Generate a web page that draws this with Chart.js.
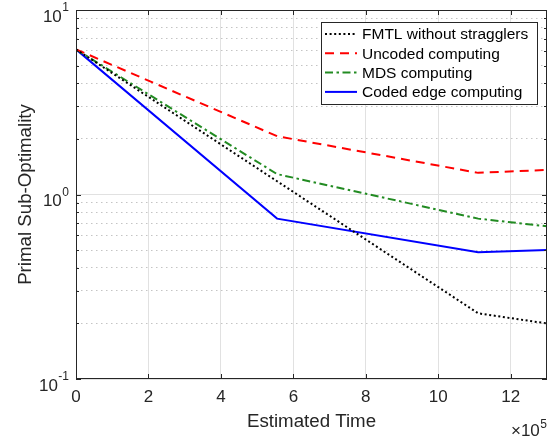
<!DOCTYPE html>
<html>
<head>
<meta charset="utf-8">
<script src="https://cdn.jsdelivr.net/npm/chart.js@4.4.1/dist/chart.umd.min.js"></script>
<style>
  html, body { margin: 0; padding: 0; background: #ffffff; }
  canvas { display: block; }
</style>
</head>
<body>
<canvas id="c" width="557" height="439"></canvas>
<script>
// ---- data ----
const times = [0, 5.55, 11.1, 13];            // ×10^5
const fmtlWithoutStragglers = [6.12, 1.18, 0.227, 0.200];
const uncodedComputing      = [6.12, 2.07, 1.31, 1.36];
const mdsComputing          = [6.12, 1.29, 0.74, 0.672];
const codedEdgeComputing    = [6.12, 0.74, 0.487, 0.50];

const seriesNames = ['FMTL without stragglers', 'Uncoded computing', 'MDS computing', 'Coded edge computing'];
const xTickValues = [0, 2, 4, 6, 8, 10, 12];
const yMajorTicks = [0.1, 1, 10];
const yExponents  = ['-1', '0', '1'];
const xLabel = 'Estimated Time';
const yLabel = 'Primal Sub-Optimality';
const xMultiplierBase = '\u00d710';
const xMultiplierExp = '5';

const FONT = '"Liberation Sans", Arial, Helvetica, sans-serif';
const AXIS_COLOR = '#262626';

function pts(ys) { return times.map((t, i) => ({ x: t, y: ys[i] })); }

const styles = [
  { color: '#000000', dash: [2, 2.6] },
  { color: '#ff0000', dash: [9, 6] },
  { color: '#228b22', dash: [8, 3.5, 2.5, 3.5] },
  { color: '#0000ff', dash: [] }
];
const seriesData = [fmtlWithoutStragglers, uncodedComputing, mdsComputing, codedEdgeComputing];

const datasets = seriesData.map((d, i) => ({
  label: seriesNames[i],
  data: pts(d),
  borderColor: styles[i].color,
  backgroundColor: styles[i].color,
  borderDash: styles[i].dash,
  borderWidth: 2,
  pointRadius: 0,
  tension: 0,
  fill: false
}));

function isMajor(v) {
  const l = Math.log10(v);
  return Math.abs(l - Math.round(l)) < 1e-6;
}

const decorPlugin = {
  id: 'decor',
  afterDatasetsDraw(chart) {
    const ctx = chart.ctx;
    const a = chart.chartArea;
    const xs = chart.scales.x, ys = chart.scales.y;
    ctx.save();
    ctx.strokeStyle = AXIS_COLOR;
    ctx.lineWidth = 1;
    ctx.setLineDash([]);
    // inward ticks
    ctx.beginPath();
    xTickValues.forEach(v => {
      const px = Math.round(xs.getPixelForValue(v)) + 0.5;
      ctx.moveTo(px, a.bottom); ctx.lineTo(px, a.bottom - 5);
      ctx.moveTo(px, a.top); ctx.lineTo(px, a.top + 5);
    });
    ys.ticks.forEach(t => {
      const py = Math.round(ys.getPixelForValue(t.value)) + 0.5;
      const len = isMajor(t.value) ? 5 : 3;
      ctx.moveTo(a.left, py); ctx.lineTo(a.left + len, py);
      ctx.moveTo(a.right, py); ctx.lineTo(a.right - len, py);
    });
    ctx.stroke();
    // box
    ctx.strokeRect(Math.round(a.left) + 0.5, Math.round(a.top) + 0.5,
                   Math.round(a.right - a.left) - 1, Math.round(a.bottom - a.top) - 1);
    ctx.restore();
  },
  afterDraw(chart) {
    const ctx = chart.ctx;
    const a = chart.chartArea;
    const ys = chart.scales.y;
    ctx.save();
    ctx.fillStyle = AXIS_COLOR;
    // y tick labels 10^n
    yMajorTicks.forEach((v, i) => {
      const py = ys.getPixelForValue(v);
      const exp = yExponents[i];
      ctx.font = '12px ' + FONT;
      const ew = ctx.measureText(exp).width;
      const right = 69;
      ctx.textBaseline = 'middle';
      ctx.textAlign = 'left';
      ctx.fillText(exp, right - ew, py - 2);
      ctx.font = '17px ' + FONT;
      ctx.textAlign = 'right';
      ctx.fillText('10', right - ew - 0.5, py + 7);
    });
    // x multiplier
    ctx.font = '12px ' + FONT;
    const mw = ctx.measureText(xMultiplierExp).width;
    ctx.textBaseline = 'alphabetic';
    ctx.textAlign = 'left';
    ctx.fillText(xMultiplierExp, 547 - mw, 428);
    ctx.font = '17px ' + FONT;
    ctx.textAlign = 'right';
    ctx.fillText(xMultiplierBase, 547 - mw - 0.5, 436);
    // axis titles
    ctx.font = '18.7px ' + FONT;
    ctx.textAlign = 'center';
    ctx.textBaseline = 'alphabetic';
    ctx.fillText(xLabel, (a.left + a.right) / 2 + 0, 427);
    ctx.save();
    ctx.translate(31, (a.top + a.bottom) / 2);
    ctx.rotate(-Math.PI / 2);
    ctx.fillText(yLabel, 0, 0);
    ctx.restore();
    // legend
    const bx = 321, by = 22, bw = 216, bh = 82;
    ctx.fillStyle = '#ffffff';
    ctx.fillRect(bx, by, bw, bh);
    ctx.strokeStyle = AXIS_COLOR;
    ctx.lineWidth = 1;
    ctx.strokeRect(bx + 0.5, by + 0.5, bw, bh);
    ctx.font = '15.5px ' + FONT;
    ctx.textAlign = 'left';
    ctx.textBaseline = 'middle';
    chart.data.datasets.forEach((ds, i) => {
      const cy = 34 + i * 19.3;
      ctx.save();
      ctx.strokeStyle = ds.borderColor;
      ctx.lineWidth = 2;
      ctx.setLineDash(ds.borderDash);
      ctx.beginPath();
      ctx.moveTo(325, cy); ctx.lineTo(357, cy);
      ctx.stroke();
      ctx.restore();
      ctx.fillStyle = '#000000';
      ctx.fillText(ds.label, 362, cy + 1);
    });
    ctx.restore();
  }
};

new Chart(document.getElementById('c'), {
  type: 'line',
  data: { datasets },
  options: {
    responsive: false,
    devicePixelRatio: 1,
    animation: false,
    layout: { padding: { top: 10, right: 10, left: 0, bottom: 0 } },
    plugins: { legend: { display: false }, tooltip: { enabled: false } },
    scales: {
      x: {
        type: 'linear',
        min: 0, max: 13,
        afterBuildTicks: s => { s.ticks = xTickValues.map(v => ({ value: v })); },
        afterFit: s => { s.height = 60; },
        grid: { color: '#e1e1e1', lineWidth: 1, drawTicks: false },
        border: { display: false },
        ticks: {
          autoSkip: false, maxRotation: 0, padding: 8,
          color: AXIS_COLOR,
          font: { family: FONT, size: 17 },
          callback: v => String(v)
        }
      },
      y: {
        type: 'logarithmic',
        min: 0.1, max: 10,
        afterBuildTicks: s => {
          const t = [];
          [0.1, 1].forEach(d => { for (let k = 1; k <= 9; k++) t.push({ value: +(d * k).toPrecision(3) }); });
          t.push({ value: 10 });
          s.ticks = t;
        },
        afterFit: s => { s.width = 76; },
        grid: {
          drawTicks: false,
          lineWidth: 1,
          color: c => (c.tick && isMajor(c.tick.value)) ? '#e1e1e1' : '#c4c4c4'
        },
        border: {
          display: false,
          dash: c => (c.tick && isMajor(c.tick.value)) ? [] : [1.5, 3.5]
        },
        ticks: { display: false, autoSkip: false }
      }
    }
  },
  plugins: [decorPlugin]
});
</script>
</body>
</html>
